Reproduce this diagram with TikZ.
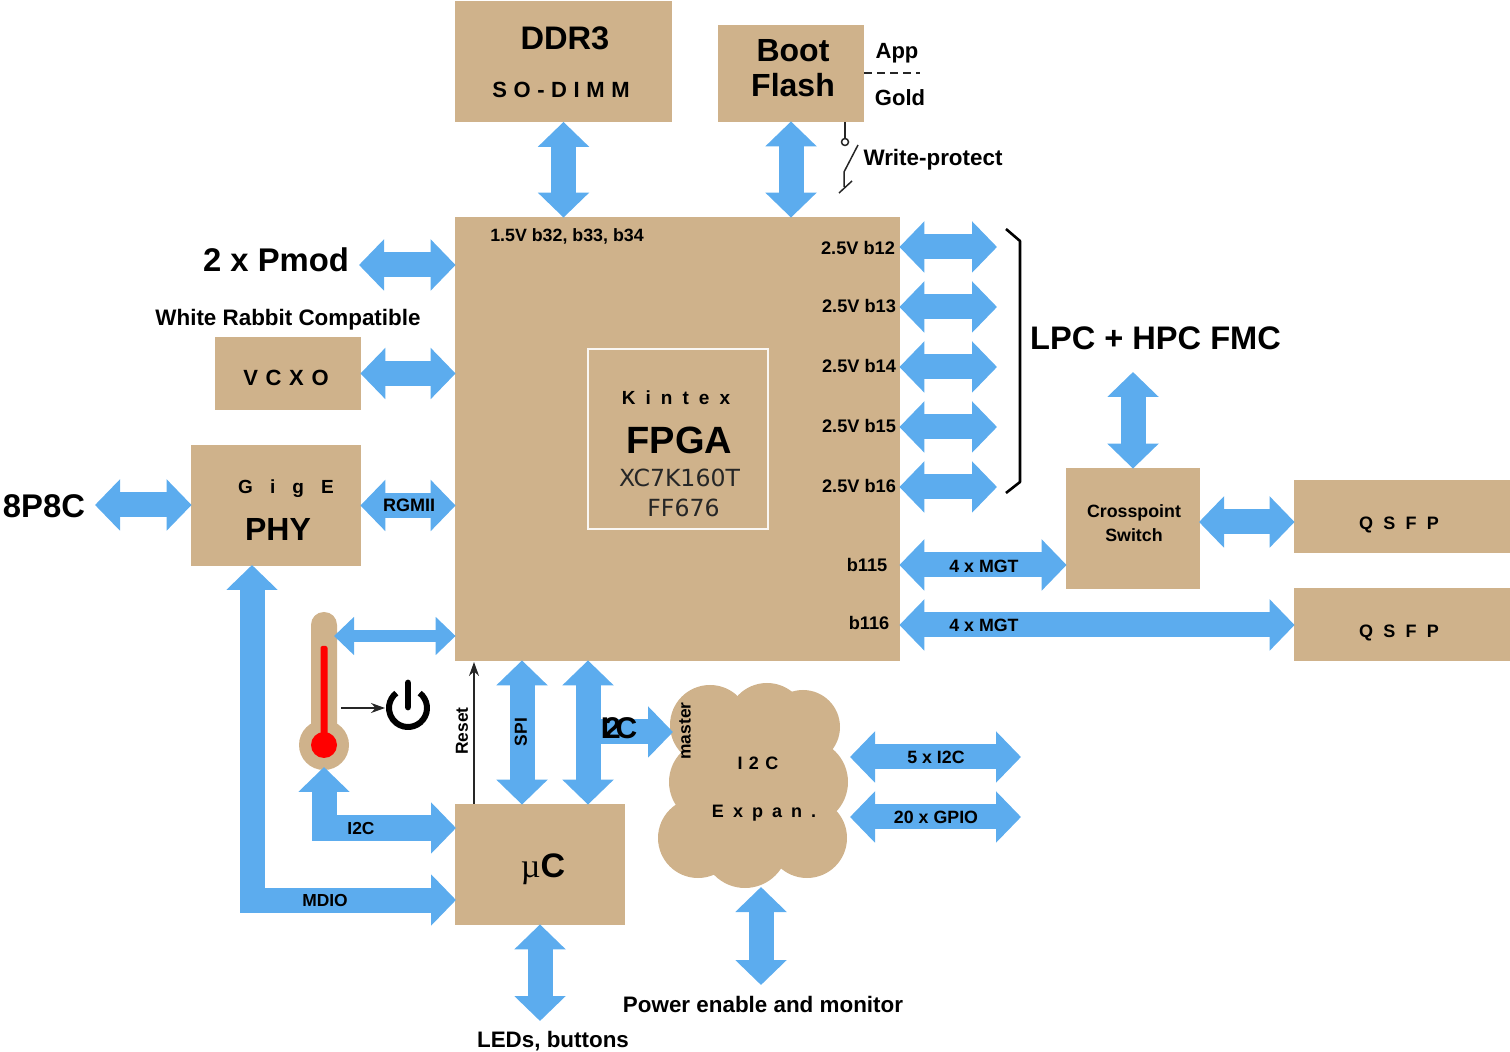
\documentclass[tikz,border=0pt]{standalone}
\usepackage{fontspec}
\setmainfont{Liberation Sans}
\newfontfamily\dejafont{DejaVu Sans}
\newfontfamily\seriffont{Liberation Serif}
\usetikzlibrary{arrows.meta}
\definecolor{boxtan}{HTML}{CFB28B}
\definecolor{barblue}{HTML}{5CACEE}
\def\px{0.5pt}
\newcommand{\spaced}[2]{{\addfontfeatures{LetterSpace=#1}#2}}
\tikzset{
  tanbox/.style={fill=boxtan,draw=none,inner sep=0pt},
  bar/.style={draw=barblue,line width=12.5pt,line join=miter,shorten <=-0.5pt,shorten >=-0.5pt,
    {Triangle[width=25pt,length=12.5pt]}-{Triangle[width=25pt,length=12.5pt]}},
  thinbar/.style={draw=barblue,line width=6pt,shorten <=-0.5pt,shorten >=-0.5pt,
    {Triangle[width=18.5pt,length=10pt]}-{Triangle[width=18.5pt,length=10pt]}},
  lbl/.style={inner sep=0pt,text=black,font=\bfseries\fontsize{#1}{#1}\selectfont},
  lbl/.default=8.5,
  wire/.style={draw=black!85,line width=0.75pt},
  thintip/.style={-{Stealth[length=7pt,width=5pt]}}
}
\begin{document}
\begin{tikzpicture}[x=0.5pt,y=-0.5pt]
\useasboundingbox (0,0) rectangle (1510,1052);
% boxes
\node[tanbox,minimum width=217*\px,minimum height=121*\px] (ddr) at (563.5,62) {};
\node[tanbox,minimum width=146*\px,minimum height=97*\px] (boot) at (791,73.5) {};
\node[tanbox,minimum width=445*\px,minimum height=444*\px] (fpga) at (677.5,439) {};
\node[tanbox,minimum width=146*\px,minimum height=73*\px] (vcxo) at (288,373.5) {};
\node[tanbox,minimum width=170*\px,minimum height=121*\px] (phy) at (276,505.5) {};
\node[tanbox,minimum width=170*\px,minimum height=121*\px] (uc) at (540,864.5) {};
\node[tanbox,minimum width=134*\px,minimum height=121*\px] (xp) at (1133,528.5) {};
\node[tanbox,minimum width=216*\px,minimum height=73*\px] (qa) at (1402,516.5) {};
\node[tanbox,minimum width=216*\px,minimum height=73*\px] (qb) at (1402,624.5) {};
% inner FPGA frame
\node[draw=white!90!boxtan,line width=1pt,fill=none,minimum width=180*\px,minimum height=180*\px,inner sep=0pt] (core) at (677.5,439) {};
% cloud
\foreach \cx/\cy/\cr in {710/725/40,767/723/40,803/727/37,805/782/43,711/782/42,698/838/40,745/845/43,807/838/40}{
  \fill[boxtan] (\cx,\cy) circle (\cr);
}
\fill[boxtan] (720,720) rectangle (800,850);
\coordinate (cloudW) at (672,732);
\coordinate (cloudS) at (761,888);
\coordinate (cloudE1) at (851,757);
\coordinate (cloudE2) at (851,817);
% thermometer
\fill[boxtan] (324,745) circle (25);
\fill[boxtan,rounded corners=6.4pt] (311,612) rectangle (337,750);
\fill[red,rounded corners=1pt] (320.5,646) rectangle (327.5,745);
\fill[red] (324,745) circle (13);
\coordinate (thermoE) at (335,636);
\coordinate (thermoS) at (324,768);
\coordinate (thermoR) at (341,708);
\coordinate (power) at (385,708);
% power symbol
\draw[black,line width=3pt] (408,708) ++(-52:19) arc[start angle=-52,end angle=232,radius=19];
\draw[black,line width=3.4pt,line cap=round] (408,683) -- (408,707);
% block arrows
\draw[bar] (ddr.south) -- (ddr.south |- fpga.north);
\draw[bar] (boot.south) -- (boot.south |- fpga.north);
\coordinate (pmodE) at (360,265);
\draw[bar] (pmodE) -- (pmodE -| fpga.west);
\coordinate (vcxoE) at (vcxo.east);
\draw[bar] (vcxoE) -- (vcxoE -| fpga.west);
\draw[bar] (phy.east) -- (phy.east -| fpga.west);
\coordinate (rj) at (96,505);
\draw[bar] (rj) -- (rj -| phy.west);
\foreach \n/\y in {a/247,b/307,c/367,d/427,e/487}{
  \coordinate (fmc\n) at (996,\y);
  \draw[bar] (fmc\n -| fpga.east) -- (fmc\n);
}
\coordinate (mgtA) at (1000,565);
\draw[bar] (mgtA -| fpga.east) -- (mgtA -| xp.west);
\coordinate (mgtB) at (1000,625);
\draw[bar] (mgtB -| fpga.east) -- (mgtB -| qb.west);
\coordinate (fmcS) at (1133,373);
\draw[bar] (fmcS) -- (xp.north);
\coordinate (xpE) at (1200,522);
\draw[bar] (xpE) -- (xpE -| qa.west);
\draw[thinbar] (thermoE) -- (thermoE -| fpga.west);
\coordinate (spi) at (522,700);
\draw[bar] (spi |- fpga.south) -- (spi |- uc.north);
\coordinate (iic) at (588,700);
\draw[bar] (iic |- fpga.south) -- (iic |- uc.north);
\draw[draw=barblue,line width=12.5pt,shorten >=-0.5pt,-{Triangle[width=25pt,length=12.5pt]}] (596,732) -- (cloudW);
\coordinate (ucI) at (455,828);
\draw[bar] (thermoS) -- (thermoS |- ucI) -- (ucI);
\coordinate (ucM) at (455,900);
\coordinate (phyS) at (252,566);
\draw[bar] (phyS) -- (phyS |- ucM) -- (ucM);
\coordinate (leds) at (540,1020);
\draw[bar] (uc.south) -- (leds);
\coordinate (pwr) at (761,984);
\draw[bar] (cloudS) -- (pwr);
\draw[bar] (cloudE1) -- (1020,757);
\draw[bar] (cloudE2) -- (1020,817);
% thin wires
\draw[wire,thintip] (474,804) -- (474,662);
\draw[wire,thintip] (thermoR) -- (power);
\draw[wire,dashed,dash pattern=on 4pt off 2.5pt] (864,73) -- (920,73);
\draw[wire] (845,122) -- (845,138);
\draw[wire] (845,142) circle (3.5);
\draw[wire] (858,145) -- (844,172) -- (844,187);
\draw[wire] (839,193) -- (852,181);
\draw[black,line width=1.3pt,line join=round] (1006,229) -- (1020,241) -- (1020,482) -- (1006,493);
% labels
\node[lbl=16.3] (tddr) at (565,38) {DDR3};
\node[lbl=11] (tso) at (561,90) {\spaced{30}{SO-DIMM}};
\node[lbl=16,align=center] (tboot) at (793,68) {Boot\\[1.5pt]Flash};
\node[lbl=11] (tapp) at (897,53) {App};
\node[lbl=11] (tgold) at (900,98) {Gold};
\node[lbl=11.2] (twp) at (933,160) {Write-protect};
\node[lbl=8.9] (t15) at (567,236) {1.5V b32, b33, b34};
\node[lbl=16.4] (tpmod) at (276,260) {2 x Pmod};
\node[lbl=11.2] (twr) at (288,320) {White Rabbit Compatible};
\node[lbl=11] (tvcxo) at (286,378) {\spaced{35}{VCXO}};
\node[lbl=9.5] (tgige) at (286,489) {\spaced{90}{GigE}};
\node[lbl=16] (tphy) at (278,529) {PHY};
\node[lbl=16.4] (t8p) at (44,506) {8P8C};
\node[lbl=9] (trgmii) at (409,505) {RGMII};
\node[lbl=9.5] (tkin) at (676,398) {\spaced{53}{Kintex}};
\node[lbl=19] (tfpga) at (679.5,440) {FPGA};
\node[inner sep=0pt,font=\dejafont\fontsize{11.8}{12}\selectfont,text=black!85] (txc) at (679.5,478) {XC7K160T};
\node[inner sep=0pt,font=\dejafont\fontsize{11.8}{12}\selectfont,text=black!85] (tff) at (683.5,508) {FF676};
\node[lbl=9.1] (t12) at (858,248) {2.5V b12};
\node[lbl=9.1] (t13) at (859,306) {2.5V b13};
\node[lbl=9.1] (t14) at (859,366) {2.5V b14};
\node[lbl=9.1] (t15b) at (859,426) {2.5V b15};
\node[lbl=9.1] (t16) at (859,486) {2.5V b16};
\node[lbl=9.1] (t115) at (867,565) {b115};
\node[lbl=9.1] (t116) at (869,623) {b116};
\node[lbl=8.9] (tmga) at (984,566) {4 x MGT};
\node[lbl=8.9] (tmgb) at (984,625) {4 x MGT};
\node[lbl=16.3] (tfmc) at (1155.5,338) {LPC + HPC FMC};
\node[lbl=8.9,align=center] (txp) at (1134,523) {Crosspoint\\[3pt]Switch};
\node[lbl=9] (tqa) at (1399,525) {\spaced{57}{QSFP}};
\node[lbl=9] (tqb) at (1399,633) {\spaced{57}{QSFP}};
\node[lbl=8.7,rotate=90] (treset) at (462,731) {Reset};
\node[lbl=8.7,rotate=90] (tspi) at (521,732) {SPI};
\node[lbl=8.7,rotate=90] (tmaster) at (685,731) {master};
\node[lbl=15] (ti2c) at (619,728) {I\kern-2.6pt2\kern-2.6ptC};
\node[lbl=9] (tcl1) at (758,763) {\spaced{36}{I2C}};
\node[lbl=9] (tcl2) at (764,813) {\spaced{50}{Expan.}};
\node[lbl=8.9] (t5) at (936,757) {5 x I2C};
\node[lbl=8.9] (t20) at (936,817) {20 x GPIO};
\node[lbl=8.7] (tti2c) at (361,829) {I2C};
\node[lbl=8.7] (tmdio) at (325,901) {MDIO};
\node[inner sep=0pt,font=\fontsize{17}{17}\selectfont,text=black] (tuc) at (543,869) {{\seriffont µ}\textbf{C}};
\node[lbl=11.2] (tpow) at (763,1004) {Power enable and monitor};
\node[lbl=11.2] (tled) at (553,1041) {LEDs, buttons};
\end{tikzpicture}
\end{document}
